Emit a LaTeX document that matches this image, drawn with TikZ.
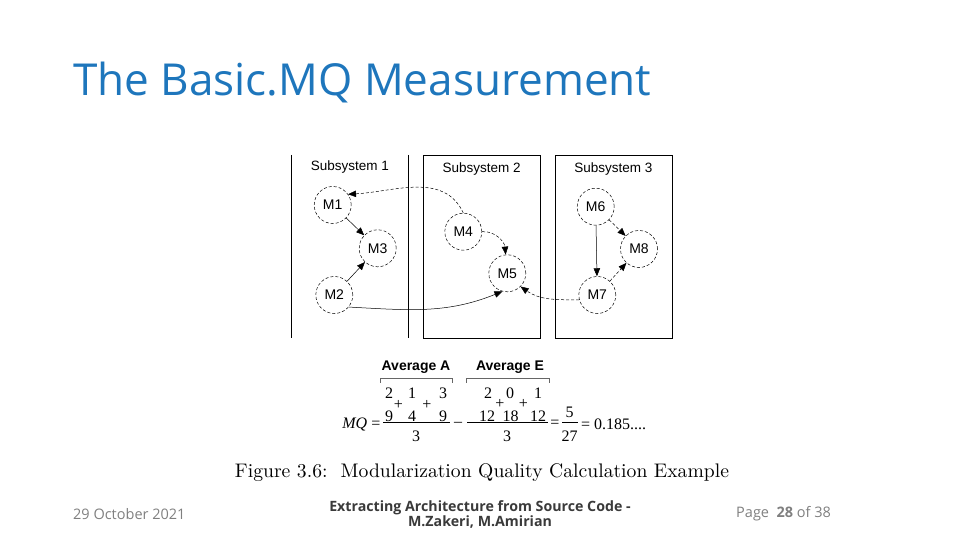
\documentclass[tikz,border=0pt]{standalone}
\usepackage{fontspec}
\usepackage{graphicx}
\setmainfont{Latin Modern Roman}
\newfontfamily\titlefont{Open Sans}
\newfontfamily\arialfont{Liberation Sans}
\newfontfamily\timesfont{Liberation Serif}
\usetikzlibrary{arrows.meta}
\definecolor{titleblue}{HTML}{1E76BC}
\definecolor{footgray}{HTML}{7F7F7F}
\definecolor{footdark}{HTML}{3A3A3A}
\tikzset{
  modnode/.style={circle, draw, densely dashed, line width=0.5pt, minimum size=37pt, inner sep=0pt, font=\arialfont\fontsize{14}{14}\selectfont},
  sublabel/.style={font=\arialfont\fontsize{13.5}{13.5}\selectfont, inner sep=0pt},
  boxline/.style={line width=0.9pt},
  dep/.style={-{Triangle[length=8pt,width=6.5pt]}, line width=0.5pt},
  ddep/.style={dep, densely dashed},
  eq/.style={font=\timesfont\fontsize{16}{16}\selectfont, inner sep=0pt},
  avg/.style={font=\arialfont\bfseries\fontsize{14}{14}\selectfont, inner sep=0pt},
}
\begin{document}
\begin{tikzpicture}[x=1pt,y=-1pt]
\useasboundingbox (0,0) rectangle (960,540);
% title
\node[anchor=base west, inner sep=0pt, text=titleblue] (title) at (73,96)
  {\resizebox{578pt}{!}{\titlefont The Basic.MQ Measurement}};
% subsystem boundaries
\draw[boxline] (291.5,155) -- (291.5,338);
\draw[boxline] (408.3,155) -- (408.3,338);
\draw[boxline] (423,155) rectangle (540.5,338.5);
\draw[boxline] (555.7,155) rectangle (672.7,338.5);
\node[sublabel] (s1) at (349.8,167.5) {Subsystem 1};
\node[sublabel] (s2) at (481.7,169) {Subsystem 2};
\node[sublabel] (s3) at (613.3,169) {Subsystem 3};
% modules
\node[modnode] (M1) at (332.7,205) {M1};
\node[modnode] (M3) at (377.7,248.3) {M3};
\node[modnode] (M2) at (334.3,295) {M2};
\node[modnode] (M4) at (463.3,231.7) {M4};
\node[modnode] (M5) at (507.3,273.3) {M5};
\node[modnode] (M6) at (595.7,206.7) {M6};
\node[modnode] (M8) at (639,249) {M8};
\node[modnode] (M7) at (597.3,295) {M7};
% dependencies
\draw[dep] (M1) -- (M3);
\draw[dep] (M2) -- (M3);
\draw[ddep] (M4.north) to[out=115,in=3] (M1.35);
\draw[ddep] (M4.east) to[out=5,in=95] (M5.95);
\draw[dep] (M2.-40) to[out=-3,in=-158] (M5.-105);
\draw[ddep] (M7.195) to[out=180,in=-35] (M5.-45);
\draw[dep] (M6) -- (M7);
\draw[ddep] (M6) -- (M8);
\draw[ddep] (M7) -- (M8);
% equation
\node[avg] (avgA) at (416,367) {Average A};
\node[avg] (avgE) at (510,367) {Average E};
\draw[line width=0.8pt, draw=black!60] (380.5,382.5) -- (380.5,378.5) -- (452.7,378.5) -- (452.7,382.5);
\draw[line width=0.8pt, draw=black!60] (466.5,382.5) -- (466.5,378.5) -- (549,378.5) -- (549,382.5);
\node[eq, anchor=east] (mq) at (380.5,424) {\textit{MQ} =};
\draw[line width=0.8pt] (383,422.5) -- (450,422.5);
\node[eq] (a1) at (389,393) {2};
\node[eq] (a2) at (389,416.5) {9};
\node[eq] (ap1) at (398.5,404.5) {+};
\node[eq] (a3) at (412,393) {1};
\node[eq] (a4) at (412,416.5) {4};
\node[eq] (ap2) at (427,404.5) {+};
\node[eq] (a5) at (443,393) {3};
\node[eq] (a6) at (443,416.5) {9};
\node[eq] (ad) at (416,436) {3};
\node[eq] (minus) at (458,424.5) {–};
\draw[line width=0.8pt] (467,422.5) -- (548,422.5);
\node[eq] (e1) at (488,393) {2};
\node[eq] (e2) at (487,416.5) {12};
\node[eq] (ep1) at (500,404) {+};
\node[eq] (e3) at (510,393) {0};
\node[eq] (e4) at (510.5,416.5) {18};
\node[eq] (ep2) at (523.5,404) {+};
\node[eq] (e5) at (538,393) {1};
\node[eq] (e6) at (538,416.5) {12};
\node[eq] (ed) at (507,436) {3};
\node[eq] (eq2) at (555,424) {=};
\node[eq] (r1) at (569.5,412.5) {5};
\draw[line width=0.8pt] (562,422.5) -- (577.5,422.5);
\node[eq] (r2) at (569.5,436) {27};
\node[eq, anchor=west] (res) at (581,424) {= 0.185....};
% caption
\node[inner sep=0pt, text=black] (cap) at (482,473)
  {\resizebox{494pt}{!}{Figure 3.6:\ \ Modularization Quality Calculation Example}};
% footer
\node[anchor=west, inner sep=0pt, text=footgray, font=\titlefont\fontsize{14.5}{14.5}\selectfont] (date) at (73,514) {29 October 2021};
\node[inner sep=0pt, text=footdark, font=\titlefont\bfseries\fontsize{14.2}{15}\selectfont, align=center] (foot) at (480,514)
  {Extracting Architecture from Source Code -\\M.Zakeri, M.Amirian};
\node[anchor=west, inner sep=0pt, text=footgray, font=\titlefont\fontsize{14.5}{14.5}\selectfont] (page) at (736,514) {Page \ \textbf{28} of 38};
\end{tikzpicture}
\end{document}
